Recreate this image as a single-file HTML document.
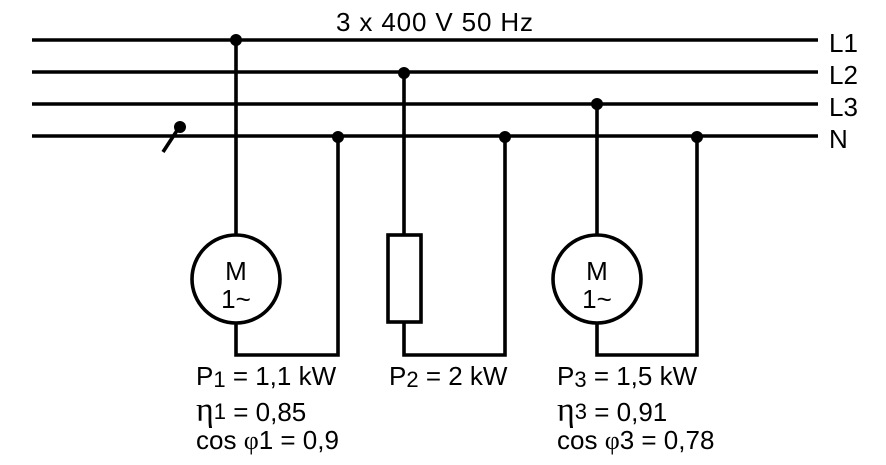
<!DOCTYPE html>
<html><head><style>
html,body{margin:0;padding:0;background:#fff;}
svg{display:block;}
text{font-family:"Liberation Sans",sans-serif;font-size:26px;fill:#000;}
</style></head><body>
<svg width="886" height="465" viewBox="0 0 886 465">
<g stroke="#000" stroke-width="3.6" fill="none">
<line x1="32" y1="40" x2="818" y2="40"/>
<line x1="32" y1="72" x2="818" y2="72"/>
<line x1="32" y1="104" x2="818" y2="104"/>
<line x1="32" y1="136" x2="818" y2="136"/>
<line x1="163" y1="152" x2="178" y2="129"/>
<line x1="236" y1="40" x2="236" y2="235"/>
<polyline points="236,323 236,355 338,355 338,136"/>
<circle cx="236" cy="279" r="44"/>
<line x1="404" y1="72" x2="404" y2="235"/>
<rect x="388" y="235" width="33" height="87"/>
<polyline points="404,322 404,355 505,355 505,136"/>
<line x1="597" y1="104" x2="597" y2="235"/>
<polyline points="597,323 597,355 697,355 697,136"/>
<circle cx="597" cy="279" r="44"/>
</g>
<g fill="#000">
<circle cx="236" cy="40" r="6"/>
<circle cx="404" cy="73" r="6"/>
<circle cx="597" cy="104" r="6"/>
<circle cx="338" cy="137" r="6"/>
<circle cx="505" cy="137" r="6"/>
<circle cx="697" cy="137" r="6"/>
<circle cx="180" cy="127" r="6"/>
</g>
<text x="336" y="31" textLength="197">3 x 400 V 50 Hz</text>
<text x="829" y="52">L1</text>
<text x="829" y="84">L2</text>
<text x="829" y="116">L3</text>
<text x="829" y="148">N</text>
<text x="236" y="280" text-anchor="middle">M</text>
<text x="236" y="308" text-anchor="middle">1~</text>
<text x="597" y="280" text-anchor="middle">M</text>
<text x="597" y="308" text-anchor="middle">1~</text>
<text x="196" y="385">P<tspan font-size="22" dy="2">1</tspan><tspan dy="-2"> = 1,1 kW</tspan></text>
<text x="389" y="385">P<tspan font-size="22" dy="2">2</tspan><tspan dy="-2"> = 2 kW</tspan></text>
<text x="557" y="385">P<tspan font-size="22" dy="2">3</tspan><tspan dy="-2"> = 1,5 kW</tspan></text>
<text x="196" y="421" font-size="28"><tspan font-family="Liberation Serif" font-size="34">η</tspan><tspan font-size="22" dy="-2">1</tspan><tspan dy="2"> = 0,85</tspan></text>
<text x="196" y="449" font-size="28">cos <tspan font-family="Liberation Serif" font-size="26">φ</tspan>1 = 0,9</text>
<text x="557" y="421" font-size="28"><tspan font-family="Liberation Serif" font-size="34">η</tspan><tspan font-size="22" dy="-2">3</tspan><tspan dy="2"> = 0,91</tspan></text>
<text x="557" y="449" font-size="28">cos <tspan font-family="Liberation Serif" font-size="26">φ</tspan>3 = 0,78</text>
</svg>
</body></html>
